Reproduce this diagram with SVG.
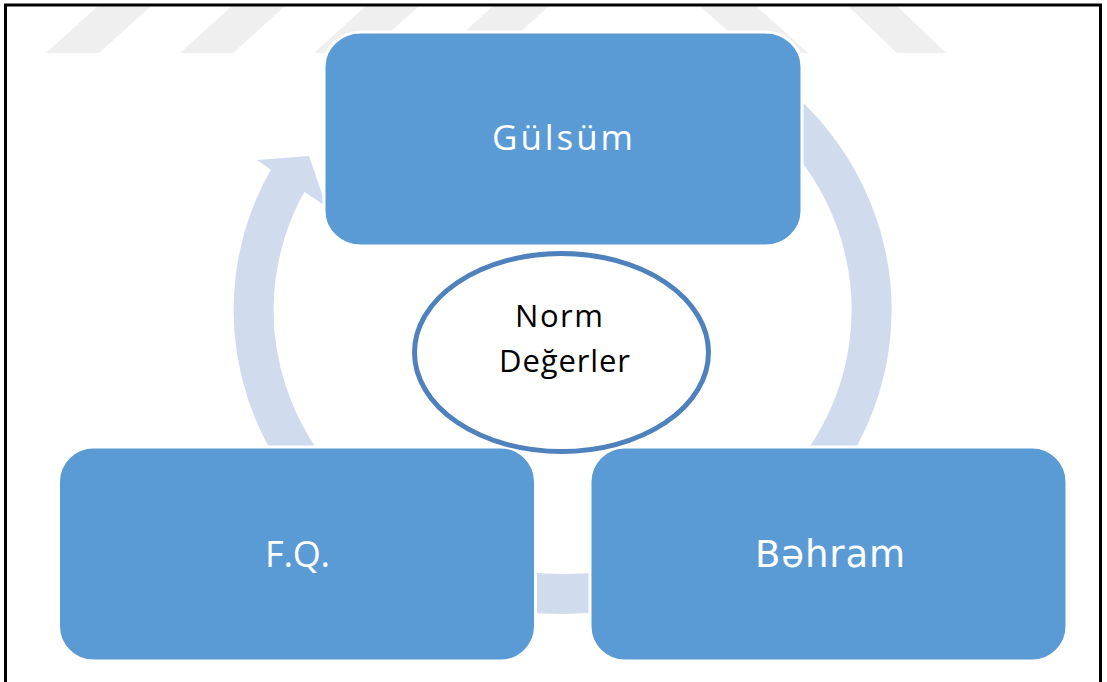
<svg xmlns="http://www.w3.org/2000/svg" width="1107" height="682" viewBox="0 0 1107 682">
  <defs>
    <style>
      .stripe { fill: #EFEFEF; }
      .ring { fill: none; stroke: #D0DCEE; stroke-width: 40; }
      .ring-head { fill: #D0DCEE; }
      .box { fill: #5B9BD5; stroke: #FFFFFF; stroke-width: 3; }
      .box-label { fill: #FFFFFF; font-family: "Open Sans", "Liberation Sans", sans-serif; text-anchor: middle; }
      .box-label-alt { fill: #FFFFFF; font-family: "DejaVu Sans", "Liberation Sans", sans-serif; text-anchor: middle; }
      .center { fill: #FFFFFF; stroke: #4F81BD; stroke-width: 5; }
      .center-label { fill: #000000; font-family: "Open Sans", "Liberation Sans", sans-serif; font-size: 31px; text-anchor: middle; }
    </style>
  </defs>

  <rect x="0" y="0" width="1107" height="682" fill="#FFFFFF"/>

  <!-- faint diagonal stripes along the top edge -->
  <g id="stripes">
    <polygon class="stripe" points="99,5 152,5 99,53 46,53"/>
    <polygon class="stripe" points="233,5 286,5 233,53 180,53"/>
    <polygon class="stripe" points="367,5 420,5 367,53 314,53"/>
    <polygon class="stripe" points="494,5 550,5 497,53 441,53"/>
    <polygon class="stripe" points="699,5 755,5 808,53 752,53"/>
    <polygon class="stripe" points="847,5 896,5 946,53 897,53"/>
  </g>

  <!-- circular arrow running clockwise behind the three boxes -->
  <g id="connectors">
    <path class="ring" d="M 717,64 A 309 284 0 1 1 289.7,176.8"/>
    <polygon class="ring-head" points="274,172 257,160 309,156 326.4,206.4 309,195"/>
  </g>

  <g id="node-gulsum">
    <rect class="box" x="324" y="32" width="478" height="214" rx="37" ry="35"/>
    <text class="box-label" x="562.5" y="150" font-size="35" textLength="141" lengthAdjust="spacing">Gülsüm</text>
  </g>

  <g id="node-fq">
    <rect class="box" x="58.5" y="447" width="477" height="214" rx="35" ry="35"/>
    <text class="box-label" x="297.5" y="566.5" font-size="36" textLength="65" lengthAdjust="spacing">F.Q.</text>
  </g>

  <g id="node-behram">
    <rect class="box" x="590" y="447" width="477" height="214" rx="35" ry="35"/>
    <text class="box-label-alt" x="830" y="567" font-size="37" textLength="150" lengthAdjust="spacing">Bəhram</text>
  </g>

  <g id="node-norm">
    <ellipse class="center" cx="561.5" cy="352.5" rx="147" ry="99"/>
    <text class="center-label" x="559" y="327" textLength="88" lengthAdjust="spacing">Norm</text>
    <text class="center-label" x="564.5" y="372" textLength="131" lengthAdjust="spacing">Değerler</text>
  </g>

  <!-- outer frame, open at the bottom -->
  <path d="M 5.5,690 L 5.5,5 L 1100.5,5 L 1100.5,690" fill="none" stroke="#000000" stroke-width="3"/>
</svg>
